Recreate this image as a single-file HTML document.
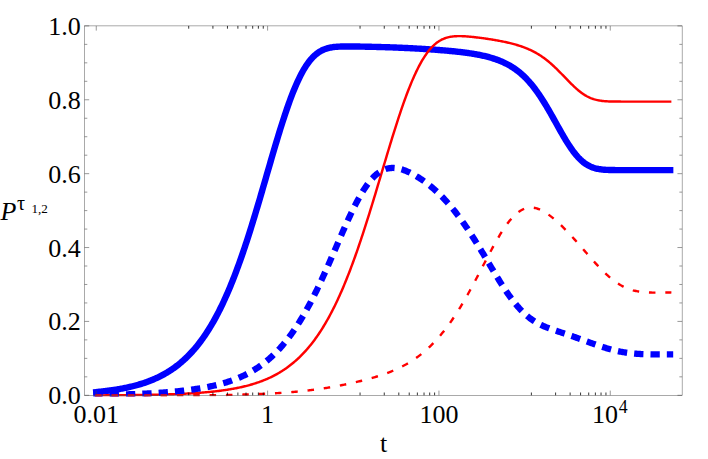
<!DOCTYPE html>
<html><head><meta charset="utf-8"><title>plot</title>
<style>html,body{margin:0;padding:0;background:#fff}svg{display:block}text{font-family:"Liberation Serif",serif;stroke:none}</style></head>
<body>
<svg width="708" height="459" viewBox="0 0 708 459">
<rect x="0" y="0" width="708" height="459" fill="#fff"/>
<defs><clipPath id="c"><rect x="84.5" y="25.9" width="597.65" height="370.70000000000005"/></clipPath></defs>
<g clip-path="url(#c)" fill="none" stroke-linejoin="round">
<path d="M96.26,392.07 L97.22,391.98 L98.18,391.89 L99.13,391.79 L100.09,391.69 L101.05,391.59 L102.01,391.48 L102.97,391.37 L103.92,391.26 L104.88,391.15 L105.84,391.04 L106.80,390.92 L107.76,390.80 L108.72,390.67 L109.67,390.54 L110.63,390.41 L111.59,390.28 L112.55,390.14 L113.51,390.00 L114.46,389.85 L115.42,389.70 L116.38,389.55 L117.34,389.39 L118.30,389.23 L119.25,389.06 L120.21,388.89 L121.17,388.72 L122.13,388.54 L123.09,388.36 L124.04,388.17 L125.00,387.98 L125.96,387.78 L126.92,387.58 L127.88,387.37 L128.84,387.16 L129.79,386.94 L130.75,386.72 L131.71,386.49 L132.67,386.25 L133.63,386.01 L134.58,385.77 L135.54,385.51 L136.50,385.25 L137.46,384.99 L138.42,384.71 L139.37,384.43 L140.33,384.15 L141.29,383.85 L142.25,383.55 L143.21,383.24 L144.16,382.92 L145.12,382.60 L146.08,382.27 L147.04,381.93 L148.00,381.58 L148.96,381.22 L149.91,380.85 L150.87,380.47 L151.83,380.09 L152.79,379.69 L153.75,379.28 L154.70,378.87 L155.66,378.44 L156.62,378.00 L157.58,377.56 L158.54,377.10 L159.49,376.63 L160.45,376.15 L161.41,375.65 L162.37,375.15 L163.33,374.63 L164.28,374.10 L165.24,373.56 L166.20,373.00 L167.16,372.43 L168.12,371.85 L169.08,371.25 L170.03,370.64 L170.99,370.01 L171.95,369.37 L172.91,368.71 L173.87,368.03 L174.82,367.35 L175.78,366.64 L176.74,365.92 L177.70,365.18 L178.66,364.42 L179.61,363.64 L180.57,362.85 L181.53,362.04 L182.49,361.20 L183.45,360.35 L184.41,359.48 L185.36,358.59 L186.32,357.68 L187.28,356.75 L188.24,355.79 L189.20,354.82 L190.15,353.82 L191.11,352.80 L192.07,351.75 L193.03,350.69 L193.99,349.60 L194.94,348.48 L195.90,347.34 L196.86,346.17 L197.82,344.98 L198.78,343.76 L199.73,342.52 L200.69,341.25 L201.65,339.95 L202.61,338.62 L203.57,337.27 L204.53,335.88 L205.48,334.47 L206.44,333.03 L207.40,331.55 L208.36,330.05 L209.32,328.51 L210.27,326.95 L211.23,325.35 L212.19,323.72 L213.15,322.06 L214.11,320.36 L215.06,318.63 L216.02,316.87 L216.98,315.07 L217.94,313.24 L218.90,311.37 L219.85,309.47 L220.81,307.53 L221.77,305.56 L222.73,303.55 L223.69,301.50 L224.65,299.42 L225.60,297.30 L226.56,295.15 L227.52,292.96 L228.48,290.73 L229.44,288.46 L230.39,286.16 L231.35,283.82 L232.31,281.44 L233.27,279.02 L234.23,276.57 L235.18,274.08 L236.14,271.55 L237.10,268.99 L238.06,266.38 L239.02,263.75 L239.97,261.07 L240.93,258.37 L241.89,255.62 L242.85,252.84 L243.81,250.03 L244.77,247.18 L245.72,244.30 L246.68,241.39 L247.64,238.45 L248.60,235.48 L249.56,232.47 L250.51,229.44 L251.47,226.38 L252.43,223.29 L253.39,220.18 L254.35,217.04 L255.30,213.88 L256.26,210.70 L257.22,207.50 L258.18,204.28 L259.14,201.04 L260.09,197.78 L261.05,194.52 L262.01,191.24 L262.97,187.95 L263.93,184.65 L264.89,181.34 L265.84,178.03 L266.80,174.72 L267.76,171.41 L268.72,168.10 L269.68,164.80 L270.63,161.50 L271.59,158.21 L272.55,154.93 L273.51,151.67 L274.47,148.42 L275.42,145.19 L276.38,141.99 L277.34,138.81 L278.30,135.65 L279.26,132.52 L280.21,129.43 L281.17,126.37 L282.13,123.35 L283.09,120.36 L284.05,117.42 L285.01,114.52 L285.96,111.67 L286.92,108.87 L287.88,106.12 L288.84,103.42 L289.80,100.78 L290.75,98.20 L291.71,95.67 L292.67,93.21 L293.63,90.81 L294.59,88.47 L295.54,86.20 L296.50,84.00 L297.46,81.87 L298.42,79.80 L299.38,77.81 L300.33,75.88 L301.29,74.03 L302.25,72.25 L303.21,70.54 L304.17,68.90 L305.13,67.33 L306.08,65.84 L307.04,64.41 L308.00,63.06 L308.96,61.77 L309.92,60.56 L310.87,59.41 L311.83,58.32 L312.79,57.30 L313.75,56.34 L314.71,55.44 L315.66,54.61 L316.62,53.82 L317.58,53.10 L318.54,52.43 L319.50,51.80 L320.45,51.23 L321.41,50.70 L322.37,50.22 L323.33,49.78 L324.29,49.38 L325.25,49.01 L326.20,48.68 L327.16,48.38 L328.12,48.12 L329.08,47.88 L330.04,47.67 L330.99,47.48 L331.95,47.31 L332.91,47.17 L333.87,47.04 L334.83,46.93 L335.78,46.84 L336.74,46.75 L337.70,46.69 L338.66,46.63 L339.62,46.58 L340.58,46.54 L341.53,46.51 L342.49,46.48 L343.45,46.46 L344.41,46.45 L345.37,46.44 L346.32,46.44 L347.28,46.43 L348.24,46.44 L349.20,46.44 L350.16,46.44 L351.11,46.45 L352.07,46.46 L353.03,46.47 L353.99,46.48 L354.95,46.50 L355.90,46.51 L356.86,46.52 L357.82,46.54 L358.78,46.55 L359.74,46.57 L360.70,46.59 L361.65,46.60 L362.61,46.62 L363.57,46.64 L364.53,46.66 L365.49,46.68 L366.44,46.70 L367.40,46.72 L368.36,46.74 L369.32,46.76 L370.28,46.78 L371.23,46.80 L372.19,46.83 L373.15,46.85 L374.11,46.87 L375.07,46.90 L376.02,46.92 L376.98,46.95 L377.94,46.97 L378.90,47.00 L379.86,47.02 L380.82,47.05 L381.77,47.08 L382.73,47.11 L383.69,47.14 L384.65,47.17 L385.61,47.20 L386.56,47.23 L387.52,47.26 L388.48,47.29 L389.44,47.32 L390.40,47.36 L391.35,47.39 L392.31,47.42 L393.27,47.46 L394.23,47.49 L395.19,47.53 L396.14,47.57 L397.10,47.61 L398.06,47.64 L399.02,47.68 L399.98,47.72 L400.94,47.76 L401.89,47.80 L402.85,47.85 L403.81,47.89 L404.77,47.93 L405.73,47.98 L406.68,48.02 L407.64,48.07 L408.60,48.11 L409.56,48.16 L410.52,48.21 L411.47,48.26 L412.43,48.31 L413.39,48.36 L414.35,48.41 L415.31,48.46 L416.26,48.51 L417.22,48.57 L418.18,48.62 L419.14,48.68 L420.10,48.73 L421.06,48.79 L422.01,48.85 L422.97,48.90 L423.93,48.96 L424.89,49.02 L425.85,49.08 L426.80,49.15 L427.76,49.21 L428.72,49.27 L429.68,49.34 L430.64,49.40 L431.59,49.47 L432.55,49.54 L433.51,49.60 L434.47,49.67 L435.43,49.74 L436.38,49.82 L437.34,49.89 L438.30,49.96 L439.26,50.04 L440.22,50.11 L441.18,50.19 L442.13,50.27 L443.09,50.35 L444.05,50.43 L445.01,50.51 L445.97,50.59 L446.92,50.68 L447.88,50.76 L448.84,50.85 L449.80,50.94 L450.76,51.03 L451.71,51.12 L452.67,51.22 L453.63,51.31 L454.59,51.41 L455.55,51.51 L456.50,51.61 L457.46,51.72 L458.42,51.82 L459.38,51.93 L460.34,52.04 L461.30,52.16 L462.25,52.27 L463.21,52.39 L464.17,52.51 L465.13,52.64 L466.09,52.76 L467.04,52.89 L468.00,53.03 L468.96,53.17 L469.92,53.31 L470.88,53.45 L471.83,53.60 L472.79,53.75 L473.75,53.91 L474.71,54.07 L475.67,54.24 L476.62,54.41 L477.58,54.59 L478.54,54.77 L479.50,54.96 L480.46,55.15 L481.42,55.35 L482.37,55.56 L483.33,55.77 L484.29,55.99 L485.25,56.22 L486.21,56.45 L487.16,56.69 L488.12,56.94 L489.08,57.20 L490.04,57.47 L491.00,57.74 L491.95,58.03 L492.91,58.32 L493.87,58.63 L494.83,58.95 L495.79,59.27 L496.75,59.61 L497.70,59.96 L498.66,60.32 L499.62,60.70 L500.58,61.09 L501.54,61.49 L502.49,61.91 L503.45,62.34 L504.41,62.79 L505.37,63.26 L506.33,63.74 L507.28,64.24 L508.24,64.75 L509.20,65.29 L510.16,65.84 L511.12,66.42 L512.07,67.01 L513.03,67.62 L513.99,68.26 L514.95,68.92 L515.91,69.60 L516.87,70.31 L517.82,71.04 L518.78,71.80 L519.74,72.58 L520.70,73.39 L521.66,74.22 L522.61,75.08 L523.57,75.97 L524.53,76.89 L525.49,77.84 L526.45,78.82 L527.40,79.83 L528.36,80.87 L529.32,81.94 L530.28,83.04 L531.24,84.17 L532.19,85.33 L533.15,86.53 L534.11,87.76 L535.07,89.02 L536.03,90.31 L536.99,91.63 L537.94,92.98 L538.90,94.37 L539.86,95.78 L540.82,97.22 L541.78,98.69 L542.73,100.19 L543.69,101.72 L544.65,103.27 L545.61,104.84 L546.57,106.44 L547.52,108.06 L548.48,109.70 L549.44,111.36 L550.40,113.03 L551.36,114.72 L552.31,116.42 L553.27,118.13 L554.23,119.84 L555.19,121.57 L556.15,123.29 L557.11,125.01 L558.06,126.73 L559.02,128.44 L559.98,130.15 L560.94,131.84 L561.90,133.52 L562.85,135.18 L563.81,136.82 L564.77,138.44 L565.73,140.03 L566.69,141.60 L567.64,143.13 L568.60,144.63 L569.56,146.10 L570.52,147.52 L571.48,148.91 L572.43,150.25 L573.39,151.55 L574.35,152.80 L575.31,154.01 L576.27,155.17 L577.23,156.27 L578.18,157.33 L579.14,158.34 L580.10,159.30 L581.06,160.21 L582.02,161.06 L582.97,161.87 L583.93,162.63 L584.89,163.34 L585.85,164.00 L586.81,164.61 L587.76,165.18 L588.72,165.70 L589.68,166.18 L590.64,166.63 L591.60,167.03 L592.55,167.40 L593.51,167.73 L594.47,168.03 L595.43,168.30 L596.39,168.54 L597.35,168.76 L598.30,168.95 L599.26,169.12 L600.22,169.26 L601.18,169.39 L602.14,169.51 L603.09,169.60 L604.05,169.69 L605.01,169.76 L605.97,169.82 L606.93,169.87 L607.88,169.92 L608.84,169.95 L609.80,169.98 L610.76,170.01 L611.72,170.03 L612.67,170.05 L613.63,170.06 L614.59,170.07 L615.55,170.08 L616.51,170.09 L617.47,170.09 L618.42,170.10 L619.38,170.10 L620.34,170.10 L621.30,170.11 L622.26,170.11 L623.21,170.11 L624.17,170.11 L625.13,170.11 L626.09,170.11 L627.05,170.11 L628.00,170.11 L628.96,170.11 L629.92,170.11 L630.88,170.11 L631.84,170.11 L632.79,170.11 L633.75,170.11 L634.71,170.11 L635.67,170.11 L636.63,170.11 L637.59,170.11 L638.54,170.11 L639.50,170.11 L640.46,170.11 L641.42,170.11 L642.38,170.11 L643.33,170.11 L644.29,170.11 L645.25,170.11 L646.21,170.11 L647.17,170.11 L648.12,170.11 L649.08,170.11 L650.04,170.11 L651.00,170.11 L651.96,170.11 L652.91,170.11 L653.87,170.11 L654.83,170.11 L655.79,170.11 L656.75,170.11 L657.71,170.11 L658.66,170.11 L659.62,170.11 L660.58,170.11 L661.54,170.11 L662.50,170.11 L663.45,170.11 L664.41,170.11 L665.37,170.11 L666.33,170.11 L667.29,170.11 L668.24,170.11 L669.20,170.11 L670.16,170.11" stroke="#0000ff" stroke-width="6.4" stroke-linecap="square"/>
<path d="M96.26,395.39 L97.22,395.39 L98.18,395.38 L99.13,395.38 L100.09,395.37 L101.05,395.37 L102.01,395.36 L102.97,395.36 L103.92,395.35 L104.88,395.35 L105.84,395.34 L106.80,395.33 L107.76,395.33 L108.72,395.32 L109.67,395.32 L110.63,395.31 L111.59,395.30 L112.55,395.30 L113.51,395.29 L114.46,395.28 L115.42,395.27 L116.38,395.27 L117.34,395.26 L118.30,395.25 L119.25,395.24 L120.21,395.23 L121.17,395.23 L122.13,395.22 L123.09,395.21 L124.04,395.20 L125.00,395.19 L125.96,395.18 L126.92,395.17 L127.88,395.16 L128.84,395.15 L129.79,395.14 L130.75,395.13 L131.71,395.12 L132.67,395.10 L133.63,395.09 L134.58,395.08 L135.54,395.07 L136.50,395.05 L137.46,395.04 L138.42,395.03 L139.37,395.01 L140.33,395.00 L141.29,394.98 L142.25,394.97 L143.21,394.95 L144.16,394.94 L145.12,394.92 L146.08,394.90 L147.04,394.89 L148.00,394.87 L148.96,394.85 L149.91,394.83 L150.87,394.81 L151.83,394.79 L152.79,394.77 L153.75,394.75 L154.70,394.73 L155.66,394.71 L156.62,394.69 L157.58,394.66 L158.54,394.64 L159.49,394.62 L160.45,394.59 L161.41,394.57 L162.37,394.54 L163.33,394.51 L164.28,394.49 L165.24,394.46 L166.20,394.43 L167.16,394.40 L168.12,394.37 L169.08,394.34 L170.03,394.31 L170.99,394.27 L171.95,394.24 L172.91,394.21 L173.87,394.17 L174.82,394.13 L175.78,394.10 L176.74,394.06 L177.70,394.02 L178.66,393.98 L179.61,393.94 L180.57,393.90 L181.53,393.85 L182.49,393.81 L183.45,393.76 L184.41,393.72 L185.36,393.67 L186.32,393.62 L187.28,393.57 L188.24,393.52 L189.20,393.46 L190.15,393.41 L191.11,393.35 L192.07,393.29 L193.03,393.23 L193.99,393.17 L194.94,393.11 L195.90,393.05 L196.86,392.98 L197.82,392.92 L198.78,392.85 L199.73,392.78 L200.69,392.70 L201.65,392.63 L202.61,392.55 L203.57,392.48 L204.53,392.40 L205.48,392.31 L206.44,392.23 L207.40,392.14 L208.36,392.05 L209.32,391.96 L210.27,391.87 L211.23,391.77 L212.19,391.67 L213.15,391.57 L214.11,391.47 L215.06,391.36 L216.02,391.26 L216.98,391.14 L217.94,391.03 L218.90,390.91 L219.85,390.79 L220.81,390.67 L221.77,390.54 L222.73,390.41 L223.69,390.28 L224.65,390.14 L225.60,390.00 L226.56,389.86 L227.52,389.71 L228.48,389.56 L229.44,389.40 L230.39,389.24 L231.35,389.08 L232.31,388.91 L233.27,388.74 L234.23,388.57 L235.18,388.39 L236.14,388.20 L237.10,388.01 L238.06,387.82 L239.02,387.62 L239.97,387.41 L240.93,387.20 L241.89,386.99 L242.85,386.77 L243.81,386.54 L244.77,386.31 L245.72,386.07 L246.68,385.83 L247.64,385.58 L248.60,385.32 L249.56,385.06 L250.51,384.79 L251.47,384.51 L252.43,384.23 L253.39,383.94 L254.35,383.64 L255.30,383.34 L256.26,383.03 L257.22,382.71 L258.18,382.38 L259.14,382.04 L260.09,381.70 L261.05,381.34 L262.01,380.98 L262.97,380.61 L263.93,380.23 L264.89,379.84 L265.84,379.44 L266.80,379.03 L267.76,378.61 L268.72,378.18 L269.68,377.74 L270.63,377.29 L271.59,376.83 L272.55,376.35 L273.51,375.87 L274.47,375.37 L275.42,374.86 L276.38,374.34 L277.34,373.81 L278.30,373.26 L279.26,372.70 L280.21,372.13 L281.17,371.54 L282.13,370.94 L283.09,370.32 L284.05,369.69 L285.01,369.05 L285.96,368.39 L286.92,367.71 L287.88,367.02 L288.84,366.31 L289.80,365.58 L290.75,364.84 L291.71,364.08 L292.67,363.30 L293.63,362.51 L294.59,361.69 L295.54,360.86 L296.50,360.01 L297.46,359.13 L298.42,358.24 L299.38,357.33 L300.33,356.40 L301.29,355.44 L302.25,354.47 L303.21,353.47 L304.17,352.45 L305.13,351.41 L306.08,350.34 L307.04,349.26 L308.00,348.14 L308.96,347.01 L309.92,345.84 L310.87,344.66 L311.83,343.45 L312.79,342.21 L313.75,340.94 L314.71,339.65 L315.66,338.33 L316.62,336.99 L317.58,335.61 L318.54,334.21 L319.50,332.78 L320.45,331.32 L321.41,329.83 L322.37,328.31 L323.33,326.76 L324.29,325.18 L325.25,323.57 L326.20,321.93 L327.16,320.25 L328.12,318.54 L329.08,316.81 L330.04,315.03 L330.99,313.23 L331.95,311.39 L332.91,309.52 L333.87,307.62 L334.83,305.68 L335.78,303.71 L336.74,301.70 L337.70,299.66 L338.66,297.58 L339.62,295.47 L340.58,293.32 L341.53,291.14 L342.49,288.93 L343.45,286.68 L344.41,284.39 L345.37,282.07 L346.32,279.71 L347.28,277.32 L348.24,274.90 L349.20,272.44 L350.16,269.94 L351.11,267.42 L352.07,264.85 L353.03,262.26 L353.99,259.63 L354.95,256.97 L355.90,254.28 L356.86,251.55 L357.82,248.80 L358.78,246.01 L359.74,243.19 L360.70,240.35 L361.65,237.47 L362.61,234.57 L363.57,231.64 L364.53,228.69 L365.49,225.71 L366.44,222.70 L367.40,219.68 L368.36,216.63 L369.32,213.56 L370.28,210.47 L371.23,207.36 L372.19,204.24 L373.15,201.10 L374.11,197.94 L375.07,194.77 L376.02,191.59 L376.98,188.40 L377.94,185.21 L378.90,182.00 L379.86,178.80 L380.82,175.58 L381.77,172.37 L382.73,169.16 L383.69,165.95 L384.65,162.74 L385.61,159.54 L386.56,156.34 L387.52,153.16 L388.48,149.99 L389.44,146.83 L390.40,143.69 L391.35,140.56 L392.31,137.46 L393.27,134.37 L394.23,131.31 L395.19,128.28 L396.14,125.27 L397.10,122.29 L398.06,119.34 L399.02,116.43 L399.98,113.55 L400.94,110.71 L401.89,107.91 L402.85,105.15 L403.81,102.43 L404.77,99.75 L405.73,97.13 L406.68,94.54 L407.64,92.01 L408.60,89.53 L409.56,87.10 L410.52,84.72 L411.47,82.40 L412.43,80.13 L413.39,77.92 L414.35,75.77 L415.31,73.68 L416.26,71.64 L417.22,69.67 L418.18,67.75 L419.14,65.90 L420.10,64.11 L421.06,62.39 L422.01,60.72 L422.97,59.12 L423.93,57.58 L424.89,56.10 L425.85,54.69 L426.80,53.33 L427.76,52.04 L428.72,50.81 L429.68,49.64 L430.64,48.53 L431.59,47.48 L432.55,46.49 L433.51,45.55 L434.47,44.67 L435.43,43.84 L436.38,43.07 L437.34,42.35 L438.30,41.68 L439.26,41.05 L440.22,40.48 L441.18,39.95 L442.13,39.46 L443.09,39.01 L444.05,38.61 L445.01,38.24 L445.97,37.91 L446.92,37.61 L447.88,37.35 L448.84,37.12 L449.80,36.91 L450.76,36.74 L451.71,36.59 L452.67,36.46 L453.63,36.35 L454.59,36.27 L455.55,36.21 L456.50,36.16 L457.46,36.13 L458.42,36.11 L459.38,36.11 L460.34,36.12 L461.30,36.14 L462.25,36.17 L463.21,36.21 L464.17,36.26 L465.13,36.32 L466.09,36.38 L467.04,36.45 L468.00,36.53 L468.96,36.61 L469.92,36.70 L470.88,36.79 L471.83,36.89 L472.79,36.98 L473.75,37.09 L474.71,37.19 L475.67,37.30 L476.62,37.41 L477.58,37.53 L478.54,37.64 L479.50,37.76 L480.46,37.89 L481.42,38.01 L482.37,38.14 L483.33,38.27 L484.29,38.40 L485.25,38.53 L486.21,38.67 L487.16,38.81 L488.12,38.95 L489.08,39.10 L490.04,39.25 L491.00,39.40 L491.95,39.55 L492.91,39.71 L493.87,39.87 L494.83,40.03 L495.79,40.19 L496.75,40.36 L497.70,40.54 L498.66,40.71 L499.62,40.89 L500.58,41.08 L501.54,41.26 L502.49,41.46 L503.45,41.65 L504.41,41.85 L505.37,42.06 L506.33,42.27 L507.28,42.48 L508.24,42.70 L509.20,42.93 L510.16,43.16 L511.12,43.40 L512.07,43.64 L513.03,43.89 L513.99,44.15 L514.95,44.42 L515.91,44.69 L516.87,44.97 L517.82,45.26 L518.78,45.56 L519.74,45.86 L520.70,46.18 L521.66,46.51 L522.61,46.84 L523.57,47.19 L524.53,47.55 L525.49,47.92 L526.45,48.30 L527.40,48.70 L528.36,49.11 L529.32,49.53 L530.28,49.96 L531.24,50.42 L532.19,50.88 L533.15,51.37 L534.11,51.86 L535.07,52.38 L536.03,52.91 L536.99,53.46 L537.94,54.03 L538.90,54.62 L539.86,55.22 L540.82,55.85 L541.78,56.49 L542.73,57.15 L543.69,57.84 L544.65,58.54 L545.61,59.26 L546.57,60.00 L547.52,60.77 L548.48,61.55 L549.44,62.35 L550.40,63.17 L551.36,64.01 L552.31,64.86 L553.27,65.74 L554.23,66.63 L555.19,67.54 L556.15,68.46 L557.11,69.39 L558.06,70.34 L559.02,71.30 L559.98,72.27 L560.94,73.24 L561.90,74.23 L562.85,75.22 L563.81,76.21 L564.77,77.21 L565.73,78.20 L566.69,79.19 L567.64,80.18 L568.60,81.17 L569.56,82.14 L570.52,83.10 L571.48,84.06 L572.43,84.99 L573.39,85.92 L574.35,86.82 L575.31,87.70 L576.27,88.56 L577.23,89.40 L578.18,90.22 L579.14,91.00 L580.10,91.76 L581.06,92.49 L582.02,93.19 L582.97,93.86 L583.93,94.49 L584.89,95.10 L585.85,95.67 L586.81,96.21 L587.76,96.71 L588.72,97.19 L589.68,97.63 L590.64,98.04 L591.60,98.42 L592.55,98.77 L593.51,99.10 L594.47,99.39 L595.43,99.66 L596.39,99.90 L597.35,100.12 L598.30,100.32 L599.26,100.49 L600.22,100.65 L601.18,100.79 L602.14,100.91 L603.09,101.02 L604.05,101.11 L605.01,101.19 L605.97,101.26 L606.93,101.32 L607.88,101.37 L608.84,101.41 L609.80,101.45 L610.76,101.48 L611.72,101.50 L612.67,101.52 L613.63,101.54 L614.59,101.55 L615.55,101.57 L616.51,101.57 L617.47,101.58 L618.42,101.59 L619.38,101.59 L620.34,101.59 L621.30,101.60 L622.26,101.60 L623.21,101.60 L624.17,101.60 L625.13,101.60 L626.09,101.60 L627.05,101.60 L628.00,101.60 L628.96,101.60 L629.92,101.60 L630.88,101.60 L631.84,101.60 L632.79,101.60 L633.75,101.60 L634.71,101.60 L635.67,101.60 L636.63,101.60 L637.59,101.60 L638.54,101.60 L639.50,101.60 L640.46,101.60 L641.42,101.60 L642.38,101.60 L643.33,101.60 L644.29,101.60 L645.25,101.60 L646.21,101.60 L647.17,101.60 L648.12,101.60 L649.08,101.60 L650.04,101.60 L651.00,101.60 L651.96,101.60 L652.91,101.60 L653.87,101.60 L654.83,101.60 L655.79,101.60 L656.75,101.60 L657.71,101.60 L658.66,101.60 L659.62,101.60 L660.58,101.60 L661.54,101.60 L662.50,101.60 L663.45,101.60 L664.41,101.60 L665.37,101.60 L666.33,101.60 L667.29,101.60 L668.24,101.60 L669.20,101.60 L670.16,101.60" stroke="#ff0000" stroke-width="2.45" stroke-linecap="square"/>
<path d="M93.30,395.07 L94.27,395.06 L95.24,395.04 L96.20,395.03 L97.17,395.01 L98.14,395.00 L99.11,394.98 L100.08,394.97 L101.04,394.95 L102.01,394.93 L102.98,394.92 L103.95,394.90 L104.92,394.88 L105.89,394.86 L106.85,394.85 L107.82,394.83 L108.79,394.81 L109.76,394.79 L110.73,394.77 L111.69,394.74 L112.66,394.72 L113.63,394.70 L114.60,394.68 L115.57,394.65 L116.53,394.63 L117.50,394.61 L118.47,394.58 L119.44,394.56 L120.41,394.53 L121.38,394.50 L122.34,394.48 L123.31,394.45 L124.28,394.42 L125.25,394.39 L126.22,394.36 L127.18,394.33 L128.15,394.30 L129.12,394.26 L130.09,394.23 L131.06,394.20 L132.02,394.16 L132.99,394.13 L133.96,394.09 L134.93,394.05 L135.90,394.01 L136.87,393.98 L137.83,393.94 L138.80,393.89 L139.77,393.85 L140.74,393.81 L141.71,393.77 L142.67,393.72 L143.64,393.68 L144.61,393.63 L145.58,393.58 L146.55,393.53 L147.51,393.48 L148.48,393.43 L149.45,393.38 L150.42,393.33 L151.39,393.27 L152.35,393.22 L153.32,393.16 L154.29,393.10 L155.26,393.04 L156.23,392.98 L157.20,392.92 L158.16,392.86 L159.13,392.79 L160.10,392.73 L161.07,392.66 L162.04,392.59 L163.00,392.52 L163.97,392.45 L164.94,392.37 L165.91,392.30 L166.88,392.22 L167.84,392.14 L168.81,392.06 L169.78,391.98 L170.75,391.90 L171.72,391.81 L172.69,391.73 L173.65,391.64 L174.62,391.55 L175.59,391.45 L176.56,391.36 L177.53,391.26 L178.49,391.16 L179.46,391.06 L180.43,390.96 L181.40,390.86 L182.37,390.75 L183.33,390.64 L184.30,390.53 L185.27,390.41 L186.24,390.30 L187.21,390.18 L188.18,390.06 L189.14,389.93 L190.11,389.81 L191.08,389.68 L192.05,389.54 L193.02,389.41 L193.98,389.27 L194.95,389.13 L195.92,388.99 L196.89,388.84 L197.86,388.69 L198.82,388.53 L199.79,388.38 L200.76,388.22 L201.73,388.05 L202.70,387.88 L203.66,387.71 L204.63,387.54 L205.60,387.36 L206.57,387.17 L207.54,386.98 L208.51,386.79 L209.47,386.60 L210.44,386.39 L211.41,386.19 L212.38,385.98 L213.35,385.76 L214.31,385.54 L215.28,385.32 L216.25,385.08 L217.22,384.85 L218.19,384.61 L219.15,384.36 L220.12,384.10 L221.09,383.84 L222.06,383.58 L223.03,383.30 L224.00,383.02 L224.96,382.74 L225.93,382.44 L226.90,382.14 L227.87,381.84 L228.84,381.52 L229.80,381.20 L230.77,380.87 L231.74,380.53 L232.71,380.18 L233.68,379.82 L234.64,379.46 L235.61,379.09 L236.58,378.70 L237.55,378.31 L238.52,377.91 L239.49,377.50 L240.45,377.08 L241.42,376.65 L242.39,376.21 L243.36,375.75 L244.33,375.29 L245.29,374.82 L246.26,374.33 L247.23,373.83 L248.20,373.32 L249.17,372.80 L250.13,372.27 L251.10,371.72 L252.07,371.16 L253.04,370.59 L254.01,370.00 L254.97,369.40 L255.94,368.79 L256.91,368.16 L257.88,367.52 L258.85,366.86 L259.82,366.19 L260.78,365.50 L261.75,364.79 L262.72,364.07 L263.69,363.34 L264.66,362.58 L265.62,361.81 L266.59,361.02 L267.56,360.22 L268.53,359.40 L269.50,358.55 L270.46,357.69 L271.43,356.81 L272.40,355.92 L273.37,355.00 L274.34,354.06 L275.31,353.10 L276.27,352.13 L277.24,351.13 L278.21,350.11 L279.18,349.07 L280.15,348.01 L281.11,346.92 L282.08,345.82 L283.05,344.69 L284.02,343.54 L284.99,342.36 L285.95,341.16 L286.92,339.94 L287.89,338.70 L288.86,337.43 L289.83,336.14 L290.80,334.82 L291.76,333.48 L292.73,332.11 L293.70,330.72 L294.67,329.30 L295.64,327.86 L296.60,326.40 L297.57,324.90 L298.54,323.39 L299.51,321.84 L300.48,320.27 L301.44,318.68 L302.41,317.06 L303.38,315.41 L304.35,313.74 L305.32,312.04 L306.28,310.32 L307.25,308.57 L308.22,306.80 L309.19,305.00 L310.16,303.18 L311.13,301.33 L312.09,299.46 L313.06,297.57 L314.03,295.65 L315.00,293.71 L315.97,291.75 L316.93,289.76 L317.90,287.75 L318.87,285.73 L319.84,283.68 L320.81,281.61 L321.77,279.53 L322.74,277.43 L323.71,275.30 L324.68,273.17 L325.65,271.02 L326.62,268.85 L327.58,266.67 L328.55,264.48 L329.52,262.28 L330.49,260.07 L331.46,257.85 L332.42,255.62 L333.39,253.39 L334.36,251.15 L335.33,248.91 L336.30,246.67 L337.26,244.42 L338.23,242.18 L339.20,239.95 L340.17,237.71 L341.14,235.49 L342.11,233.27 L343.07,231.07 L344.04,228.87 L345.01,226.69 L345.98,224.53 L346.95,222.38 L347.91,220.25 L348.88,218.14 L349.85,216.06 L350.82,214.00 L351.79,211.97 L352.75,209.97 L353.72,208.00 L354.69,206.06 L355.66,204.16 L356.63,202.29 L357.59,200.46 L358.56,198.68 L359.53,196.93 L360.50,195.22 L361.47,193.56 L362.44,191.95 L363.40,190.38 L364.37,188.86 L365.34,187.40 L366.31,185.98 L367.28,184.61 L368.24,183.30 L369.21,182.04 L370.18,180.84 L371.15,179.69 L372.12,178.60 L373.08,177.56 L374.05,176.57 L375.02,175.65 L375.99,174.78 L376.96,173.96 L377.93,173.20 L378.89,172.50 L379.86,171.85 L380.83,171.25 L381.80,170.71 L382.77,170.22 L383.73,169.78 L384.70,169.40 L385.67,169.06 L386.64,168.77 L387.61,168.52 L388.57,168.33 L389.54,168.17 L390.51,168.06 L391.48,167.99 L392.45,167.97 L393.42,167.97 L394.38,168.02 L395.35,168.10 L396.32,168.22 L397.29,168.37 L398.26,168.55 L399.22,168.75 L400.19,168.99 L401.16,169.26 L402.13,169.55 L403.10,169.86 L404.06,170.20 L405.03,170.56 L406.00,170.94 L406.97,171.35 L407.94,171.77 L408.91,172.21 L409.87,172.67 L410.84,173.15 L411.81,173.64 L412.78,174.15 L413.75,174.68 L414.71,175.22 L415.68,175.78 L416.65,176.35 L417.62,176.94 L418.59,177.54 L419.55,178.16 L420.52,178.79 L421.49,179.44 L422.46,180.10 L423.43,180.77 L424.39,181.46 L425.36,182.17 L426.33,182.89 L427.30,183.62 L428.27,184.37 L429.24,185.14 L430.20,185.92 L431.17,186.71 L432.14,187.53 L433.11,188.35 L434.08,189.20 L435.04,190.06 L436.01,190.93 L436.98,191.82 L437.95,192.73 L438.92,193.66 L439.88,194.60 L440.85,195.56 L441.82,196.54 L442.79,197.53 L443.76,198.54 L444.73,199.57 L445.69,200.62 L446.66,201.68 L447.63,202.76 L448.60,203.86 L449.57,204.98 L450.53,206.11 L451.50,207.26 L452.47,208.43 L453.44,209.62 L454.41,210.83 L455.37,212.05 L456.34,213.29 L457.31,214.55 L458.28,215.83 L459.25,217.12 L460.22,218.43 L461.18,219.76 L462.15,221.10 L463.12,222.47 L464.09,223.84 L465.06,225.24 L466.02,226.65 L466.99,228.07 L467.96,229.51 L468.93,230.97 L469.90,232.44 L470.86,233.92 L471.83,235.42 L472.80,236.93 L473.77,238.46 L474.74,239.99 L475.70,241.54 L476.67,243.10 L477.64,244.66 L478.61,246.24 L479.58,247.83 L480.55,249.42 L481.51,251.02 L482.48,252.63 L483.45,254.24 L484.42,255.86 L485.39,257.48 L486.35,259.11 L487.32,260.73 L488.29,262.36 L489.26,263.99 L490.23,265.61 L491.19,267.24 L492.16,268.86 L493.13,270.47 L494.10,272.08 L495.07,273.68 L496.04,275.28 L497.00,276.86 L497.97,278.44 L498.94,280.00 L499.91,281.56 L500.88,283.09 L501.84,284.62 L502.81,286.12 L503.78,287.61 L504.75,289.08 L505.72,290.53 L506.68,291.96 L507.65,293.37 L508.62,294.76 L509.59,296.12 L510.56,297.46 L511.53,298.77 L512.49,300.06 L513.46,301.32 L514.43,302.55 L515.40,303.75 L516.37,304.92 L517.33,306.07 L518.30,307.18 L519.27,308.27 L520.24,309.32 L521.21,310.34 L522.17,311.33 L523.14,312.29 L524.11,313.22 L525.08,314.12 L526.05,314.99 L527.01,315.83 L527.98,316.64 L528.95,317.42 L529.92,318.17 L530.89,318.89 L531.86,319.58 L532.82,320.25 L533.79,320.89 L534.76,321.51 L535.73,322.10 L536.70,322.67 L537.66,323.21 L538.63,323.74 L539.60,324.24 L540.57,324.73 L541.54,325.19 L542.50,325.64 L543.47,326.08 L544.44,326.50 L545.41,326.90 L546.38,327.30 L547.35,327.68 L548.31,328.05 L549.28,328.42 L550.25,328.77 L551.22,329.12 L552.19,329.46 L553.15,329.79 L554.12,330.13 L555.09,330.45 L556.06,330.78 L557.03,331.10 L557.99,331.42 L558.96,331.74 L559.93,332.06 L560.90,332.38 L561.87,332.70 L562.84,333.02 L563.80,333.34 L564.77,333.66 L565.74,333.98 L566.71,334.31 L567.68,334.63 L568.64,334.96 L569.61,335.29 L570.58,335.63 L571.55,335.96 L572.52,336.30 L573.48,336.64 L574.45,336.98 L575.42,337.32 L576.39,337.67 L577.36,338.02 L578.32,338.36 L579.29,338.71 L580.26,339.06 L581.23,339.42 L582.20,339.77 L583.17,340.12 L584.13,340.48 L585.10,340.83 L586.07,341.18 L587.04,341.54 L588.01,341.89 L588.97,342.24 L589.94,342.60 L590.91,342.95 L591.88,343.29 L592.85,343.64 L593.81,343.99 L594.78,344.33 L595.75,344.67 L596.72,345.01 L597.69,345.34 L598.66,345.67 L599.62,346.00 L600.59,346.32 L601.56,346.64 L602.53,346.95 L603.50,347.26 L604.46,347.56 L605.43,347.86 L606.40,348.15 L607.37,348.44 L608.34,348.72 L609.30,349.00 L610.27,349.26 L611.24,349.53 L612.21,349.78 L613.18,350.03 L614.15,350.27 L615.11,350.50 L616.08,350.73 L617.05,350.95 L618.02,351.16 L618.99,351.36 L619.95,351.56 L620.92,351.74 L621.89,351.92 L622.86,352.10 L623.83,352.26 L624.79,352.42 L625.76,352.57 L626.73,352.71 L627.70,352.84 L628.67,352.97 L629.63,353.09 L630.60,353.20 L631.57,353.31 L632.54,353.41 L633.51,353.50 L634.48,353.59 L635.44,353.67 L636.41,353.74 L637.38,353.81 L638.35,353.88 L639.32,353.94 L640.28,353.99 L641.25,354.04 L642.22,354.09 L643.19,354.13 L644.16,354.16 L645.12,354.20 L646.09,354.23 L647.06,354.25 L648.03,354.28 L649.00,354.30 L649.97,354.32 L650.93,354.34 L651.90,354.35 L652.87,354.37 L653.84,354.38 L654.81,354.39 L655.77,354.40 L656.74,354.40 L657.71,354.41 L658.68,354.42 L659.65,354.42 L660.61,354.42 L661.58,354.43 L662.55,354.43 L663.52,354.43 L664.49,354.43 L665.46,354.44 L666.42,354.44 L667.39,354.44 L668.36,354.44 L669.33,354.44 L670.30,354.44 L671.26,354.44 L672.23,354.44 L673.20,354.44" stroke="#0000ff" stroke-width="6.3" stroke-dasharray="9.3 7.05" stroke-dashoffset="0"/>
<path d="M95.15,395.58 L96.11,395.57 L97.07,395.57 L98.04,395.57 L99.00,395.57 L99.96,395.57 L100.92,395.57 L101.88,395.57 L102.85,395.57 L103.81,395.57 L104.77,395.57 L105.73,395.57 L106.69,395.57 L107.66,395.57 L108.62,395.57 L109.58,395.57 L110.54,395.56 L111.50,395.56 L112.47,395.56 L113.43,395.56 L114.39,395.56 L115.35,395.56 L116.31,395.56 L117.28,395.56 L118.24,395.56 L119.20,395.56 L120.16,395.56 L121.12,395.56 L122.09,395.55 L123.05,395.55 L124.01,395.55 L124.97,395.55 L125.93,395.55 L126.90,395.55 L127.86,395.55 L128.82,395.55 L129.78,395.54 L130.74,395.54 L131.71,395.54 L132.67,395.54 L133.63,395.54 L134.59,395.54 L135.55,395.54 L136.52,395.53 L137.48,395.53 L138.44,395.53 L139.40,395.53 L140.36,395.53 L141.33,395.53 L142.29,395.52 L143.25,395.52 L144.21,395.52 L145.18,395.52 L146.14,395.52 L147.10,395.52 L148.06,395.51 L149.02,395.51 L149.99,395.51 L150.95,395.51 L151.91,395.50 L152.87,395.50 L153.83,395.50 L154.80,395.50 L155.76,395.49 L156.72,395.49 L157.68,395.49 L158.64,395.49 L159.61,395.48 L160.57,395.48 L161.53,395.48 L162.49,395.47 L163.45,395.47 L164.42,395.47 L165.38,395.47 L166.34,395.46 L167.30,395.46 L168.26,395.45 L169.23,395.45 L170.19,395.45 L171.15,395.44 L172.11,395.44 L173.07,395.44 L174.04,395.43 L175.00,395.43 L175.96,395.42 L176.92,395.42 L177.88,395.41 L178.85,395.41 L179.81,395.40 L180.77,395.40 L181.73,395.39 L182.69,395.39 L183.66,395.38 L184.62,395.38 L185.58,395.37 L186.54,395.37 L187.50,395.36 L188.47,395.35 L189.43,395.35 L190.39,395.34 L191.35,395.34 L192.31,395.33 L193.28,395.32 L194.24,395.31 L195.20,395.31 L196.16,395.30 L197.12,395.29 L198.09,395.28 L199.05,395.28 L200.01,395.27 L200.97,395.26 L201.93,395.25 L202.90,395.24 L203.86,395.23 L204.82,395.22 L205.78,395.21 L206.74,395.20 L207.71,395.19 L208.67,395.18 L209.63,395.17 L210.59,395.16 L211.55,395.15 L212.52,395.14 L213.48,395.13 L214.44,395.11 L215.40,395.10 L216.36,395.09 L217.33,395.08 L218.29,395.06 L219.25,395.05 L220.21,395.04 L221.17,395.02 L222.14,395.01 L223.10,394.99 L224.06,394.98 L225.02,394.96 L225.98,394.94 L226.95,394.93 L227.91,394.91 L228.87,394.89 L229.83,394.87 L230.79,394.86 L231.76,394.84 L232.72,394.82 L233.68,394.80 L234.64,394.78 L235.60,394.76 L236.57,394.73 L237.53,394.71 L238.49,394.69 L239.45,394.67 L240.42,394.64 L241.38,394.62 L242.34,394.59 L243.30,394.57 L244.26,394.54 L245.23,394.52 L246.19,394.49 L247.15,394.46 L248.11,394.43 L249.07,394.40 L250.04,394.37 L251.00,394.34 L251.96,394.31 L252.92,394.28 L253.88,394.24 L254.85,394.21 L255.81,394.18 L256.77,394.14 L257.73,394.10 L258.69,394.07 L259.66,394.03 L260.62,393.99 L261.58,393.95 L262.54,393.91 L263.50,393.87 L264.47,393.82 L265.43,393.78 L266.39,393.73 L267.35,393.69 L268.31,393.64 L269.28,393.59 L270.24,393.54 L271.20,393.49 L272.16,393.44 L273.12,393.39 L274.09,393.33 L275.05,393.28 L276.01,393.22 L276.97,393.17 L277.93,393.11 L278.90,393.05 L279.86,392.98 L280.82,392.92 L281.78,392.86 L282.74,392.79 L283.71,392.72 L284.67,392.65 L285.63,392.58 L286.59,392.51 L287.55,392.44 L288.52,392.36 L289.48,392.29 L290.44,392.21 L291.40,392.13 L292.36,392.05 L293.33,391.97 L294.29,391.88 L295.25,391.79 L296.21,391.71 L297.17,391.62 L298.14,391.52 L299.10,391.43 L300.06,391.34 L301.02,391.24 L301.98,391.14 L302.95,391.04 L303.91,390.93 L304.87,390.83 L305.83,390.72 L306.79,390.61 L307.76,390.50 L308.72,390.39 L309.68,390.27 L310.64,390.16 L311.60,390.04 L312.57,389.91 L313.53,389.79 L314.49,389.67 L315.45,389.54 L316.41,389.41 L317.38,389.28 L318.34,389.14 L319.30,389.00 L320.26,388.86 L321.22,388.72 L322.19,388.58 L323.15,388.43 L324.11,388.29 L325.07,388.14 L326.03,387.98 L327.00,387.83 L327.96,387.67 L328.92,387.51 L329.88,387.35 L330.84,387.19 L331.81,387.02 L332.77,386.85 L333.73,386.68 L334.69,386.51 L335.66,386.34 L336.62,386.16 L337.58,385.98 L338.54,385.80 L339.50,385.61 L340.47,385.43 L341.43,385.24 L342.39,385.05 L343.35,384.85 L344.31,384.66 L345.28,384.46 L346.24,384.26 L347.20,384.06 L348.16,383.85 L349.12,383.65 L350.09,383.44 L351.05,383.22 L352.01,383.01 L352.97,382.79 L353.93,382.58 L354.90,382.35 L355.86,382.13 L356.82,381.90 L357.78,381.68 L358.74,381.44 L359.71,381.21 L360.67,380.97 L361.63,380.74 L362.59,380.49 L363.55,380.25 L364.52,380.00 L365.48,379.75 L366.44,379.50 L367.40,379.24 L368.36,378.98 L369.33,378.72 L370.29,378.45 L371.25,378.18 L372.21,377.91 L373.17,377.63 L374.14,377.35 L375.10,377.06 L376.06,376.77 L377.02,376.48 L377.98,376.18 L378.95,375.87 L379.91,375.56 L380.87,375.25 L381.83,374.93 L382.79,374.60 L383.76,374.27 L384.72,373.93 L385.68,373.59 L386.64,373.24 L387.60,372.88 L388.57,372.52 L389.53,372.15 L390.49,371.77 L391.45,371.38 L392.41,370.99 L393.38,370.59 L394.34,370.18 L395.30,369.76 L396.26,369.33 L397.22,368.89 L398.19,368.44 L399.15,367.99 L400.11,367.52 L401.07,367.04 L402.03,366.55 L403.00,366.05 L403.96,365.54 L404.92,365.02 L405.88,364.49 L406.84,363.94 L407.81,363.38 L408.77,362.81 L409.73,362.23 L410.69,361.63 L411.65,361.02 L412.62,360.40 L413.58,359.76 L414.54,359.11 L415.50,358.45 L416.46,357.76 L417.43,357.07 L418.39,356.36 L419.35,355.63 L420.31,354.89 L421.27,354.13 L422.24,353.35 L423.20,352.56 L424.16,351.75 L425.12,350.93 L426.08,350.08 L427.05,349.22 L428.01,348.35 L428.97,347.45 L429.93,346.53 L430.89,345.60 L431.86,344.65 L432.82,343.67 L433.78,342.68 L434.74,341.67 L435.71,340.64 L436.67,339.59 L437.63,338.52 L438.59,337.43 L439.55,336.32 L440.52,335.19 L441.48,334.03 L442.44,332.86 L443.40,331.66 L444.36,330.45 L445.33,329.21 L446.29,327.95 L447.25,326.67 L448.21,325.37 L449.17,324.05 L450.14,322.70 L451.10,321.34 L452.06,319.95 L453.02,318.54 L453.98,317.11 L454.95,315.66 L455.91,314.19 L456.87,312.69 L457.83,311.18 L458.79,309.65 L459.76,308.09 L460.72,306.52 L461.68,304.93 L462.64,303.31 L463.60,301.68 L464.57,300.03 L465.53,298.37 L466.49,296.68 L467.45,294.98 L468.41,293.26 L469.38,291.53 L470.34,289.78 L471.30,288.02 L472.26,286.25 L473.22,284.46 L474.19,282.67 L475.15,280.86 L476.11,279.04 L477.07,277.21 L478.03,275.38 L479.00,273.54 L479.96,271.70 L480.92,269.85 L481.88,268.00 L482.84,266.15 L483.81,264.30 L484.77,262.45 L485.73,260.61 L486.69,258.77 L487.65,256.94 L488.62,255.11 L489.58,253.30 L490.54,251.49 L491.50,249.70 L492.46,247.93 L493.43,246.17 L494.39,244.43 L495.35,242.71 L496.31,241.01 L497.27,239.33 L498.24,237.69 L499.20,236.07 L500.16,234.48 L501.12,232.92 L502.08,231.39 L503.05,229.90 L504.01,228.44 L504.97,227.03 L505.93,225.65 L506.89,224.32 L507.86,223.03 L508.82,221.78 L509.78,220.58 L510.74,219.43 L511.70,218.33 L512.67,217.28 L513.63,216.27 L514.59,215.33 L515.55,214.43 L516.51,213.59 L517.48,212.80 L518.44,212.07 L519.40,211.39 L520.36,210.77 L521.32,210.20 L522.29,209.69 L523.25,209.24 L524.21,208.84 L525.17,208.50 L526.13,208.21 L527.10,207.98 L528.06,207.80 L529.02,207.67 L529.98,207.60 L530.95,207.57 L531.91,207.60 L532.87,207.68 L533.83,207.80 L534.79,207.97 L535.76,208.19 L536.72,208.45 L537.68,208.75 L538.64,209.09 L539.60,209.47 L540.57,209.89 L541.53,210.35 L542.49,210.84 L543.45,211.36 L544.41,211.92 L545.38,212.50 L546.34,213.12 L547.30,213.76 L548.26,214.43 L549.22,215.12 L550.19,215.84 L551.15,216.58 L552.11,217.35 L553.07,218.13 L554.03,218.93 L555.00,219.75 L555.96,220.59 L556.92,221.45 L557.88,222.32 L558.84,223.21 L559.81,224.11 L560.77,225.03 L561.73,225.96 L562.69,226.91 L563.65,227.86 L564.62,228.83 L565.58,229.81 L566.54,230.80 L567.50,231.81 L568.46,232.82 L569.43,233.84 L570.39,234.87 L571.35,235.91 L572.31,236.96 L573.27,238.02 L574.24,239.08 L575.20,240.15 L576.16,241.23 L577.12,242.31 L578.08,243.40 L579.05,244.49 L580.01,245.59 L580.97,246.69 L581.93,247.79 L582.89,248.90 L583.86,250.00 L584.82,251.11 L585.78,252.21 L586.74,253.32 L587.70,254.42 L588.67,255.52 L589.63,256.62 L590.59,257.71 L591.55,258.80 L592.51,259.88 L593.48,260.96 L594.44,262.02 L595.40,263.08 L596.36,264.13 L597.32,265.17 L598.29,266.20 L599.25,267.21 L600.21,268.22 L601.17,269.21 L602.13,270.18 L603.10,271.14 L604.06,272.08 L605.02,273.01 L605.98,273.92 L606.94,274.81 L607.91,275.68 L608.87,276.53 L609.83,277.36 L610.79,278.17 L611.75,278.96 L612.72,279.72 L613.68,280.46 L614.64,281.18 L615.60,281.88 L616.56,282.55 L617.53,283.20 L618.49,283.82 L619.45,284.42 L620.41,285.00 L621.37,285.55 L622.34,286.07 L623.30,286.57 L624.26,287.05 L625.22,287.50 L626.19,287.93 L627.15,288.34 L628.11,288.72 L629.07,289.08 L630.03,289.42 L631.00,289.73 L631.96,290.02 L632.92,290.30 L633.88,290.55 L634.84,290.78 L635.81,291.00 L636.77,291.20 L637.73,291.38 L638.69,291.54 L639.65,291.69 L640.62,291.82 L641.58,291.95 L642.54,292.05 L643.50,292.15 L644.46,292.23 L645.43,292.30 L646.39,292.37 L647.35,292.42 L648.31,292.46 L649.27,292.50 L650.24,292.53 L651.20,292.56 L652.16,292.58 L653.12,292.59 L654.08,292.60 L655.05,292.60 L656.01,292.60 L656.97,292.60 L657.93,292.60 L658.89,292.59 L659.86,292.58 L660.82,292.57 L661.78,292.56 L662.74,292.55 L663.70,292.53 L664.67,292.52 L665.63,292.51 L666.59,292.49 L667.55,292.48 L668.51,292.46 L669.48,292.45 L670.44,292.43 L671.40,292.42" stroke="#ff0000" stroke-width="2.4" stroke-dasharray="6.5 9.85" stroke-dashoffset="0"/>
</g>
<rect x="84.5" y="25.9" width="597.65" height="369.40000000000003" fill="none" stroke="#555" stroke-width="0.5"/>
<path d="M84.5,395.30h4.7 M682.15,395.30h-4.7 M84.5,376.83h2.8 M682.15,376.83h-2.8 M84.5,358.36h2.8 M682.15,358.36h-2.8 M84.5,339.89h2.8 M682.15,339.89h-2.8 M84.5,321.42h4.7 M682.15,321.42h-4.7 M84.5,302.95h2.8 M682.15,302.95h-2.8 M84.5,284.48h2.8 M682.15,284.48h-2.8 M84.5,266.01h2.8 M682.15,266.01h-2.8 M84.5,247.54h4.7 M682.15,247.54h-4.7 M84.5,229.07h2.8 M682.15,229.07h-2.8 M84.5,210.60h2.8 M682.15,210.60h-2.8 M84.5,192.13h2.8 M682.15,192.13h-2.8 M84.5,173.66h4.7 M682.15,173.66h-4.7 M84.5,155.19h2.8 M682.15,155.19h-2.8 M84.5,136.72h2.8 M682.15,136.72h-2.8 M84.5,118.25h2.8 M682.15,118.25h-2.8 M84.5,99.78h4.7 M682.15,99.78h-4.7 M84.5,81.31h2.8 M682.15,81.31h-2.8 M84.5,62.84h2.8 M682.15,62.84h-2.8 M84.5,44.37h2.8 M682.15,44.37h-2.8 M84.5,25.90h4.7 M682.15,25.90h-4.7 M96.26,395.3v-4.7 M96.26,25.9v4.7 M267.60,395.3v-4.7 M267.60,25.9v4.7 M438.94,395.3v-4.7 M438.94,25.9v4.7 M610.28,395.3v-4.7 M610.28,25.9v4.7" stroke="#444" stroke-width="0.55" fill="none"/>
<path d="M188.71,395.3v-2.8 M188.71,25.9v2.8 M212.92,395.3v-2.8 M212.92,25.9v2.8 M227.46,395.3v-2.8 M227.46,25.9v2.8 M237.89,395.3v-2.8 M237.89,25.9v2.8 M246.03,395.3v-2.8 M246.03,25.9v2.8 M252.70,395.3v-2.8 M252.70,25.9v2.8 M258.36,395.3v-2.8 M258.36,25.9v2.8 M263.26,395.3v-2.8 M263.26,25.9v2.8 M360.05,395.3v-2.8 M360.05,25.9v2.8 M384.26,395.3v-2.8 M384.26,25.9v2.8 M398.80,395.3v-2.8 M398.80,25.9v2.8 M409.23,395.3v-2.8 M409.23,25.9v2.8 M417.37,395.3v-2.8 M417.37,25.9v2.8 M424.04,395.3v-2.8 M424.04,25.9v2.8 M429.70,395.3v-2.8 M429.70,25.9v2.8 M434.60,395.3v-2.8 M434.60,25.9v2.8 M531.39,395.3v-2.8 M531.39,25.9v2.8 M555.60,395.3v-2.8 M555.60,25.9v2.8 M570.14,395.3v-2.8 M570.14,25.9v2.8 M580.57,395.3v-2.8 M580.57,25.9v2.8 M588.71,395.3v-2.8 M588.71,25.9v2.8 M595.38,395.3v-2.8 M595.38,25.9v2.8 M601.04,395.3v-2.8 M601.04,25.9v2.8 M605.94,395.3v-2.8 M605.94,25.9v2.8" stroke="#000" stroke-width="0.8" fill="none"/>
<g fill="#000" stroke="none"><text x="80.7" y="404.3" font-size="26" text-anchor="end">0.0</text><text x="80.7" y="330.4" font-size="26" text-anchor="end">0.2</text><text x="80.7" y="256.5" font-size="26" text-anchor="end">0.4</text><text x="80.7" y="182.7" font-size="26" text-anchor="end">0.6</text><text x="80.7" y="108.8" font-size="26" text-anchor="end">0.8</text><text x="80.7" y="34.9" font-size="26" text-anchor="end">1.0</text><text x="96.3" y="422.7" font-size="26" text-anchor="middle">0.01</text><text x="267.6" y="422.7" font-size="26" text-anchor="middle">1</text><text x="438.9" y="422.7" font-size="26" text-anchor="middle">100</text><text x="605.0" y="422.7" font-size="26" text-anchor="middle">10</text><text x="383.5" y="452.4" font-size="26" text-anchor="middle">t</text><text x="618.8" y="412.9" font-size="17.8">4</text><text x="0.6" y="220.4" font-size="26" font-style="italic">P</text><text x="17" y="209.8" font-size="20">τ</text><text x="31.4" y="212.9" font-size="13.1">1,2</text></g>
</svg>
</body></html>
